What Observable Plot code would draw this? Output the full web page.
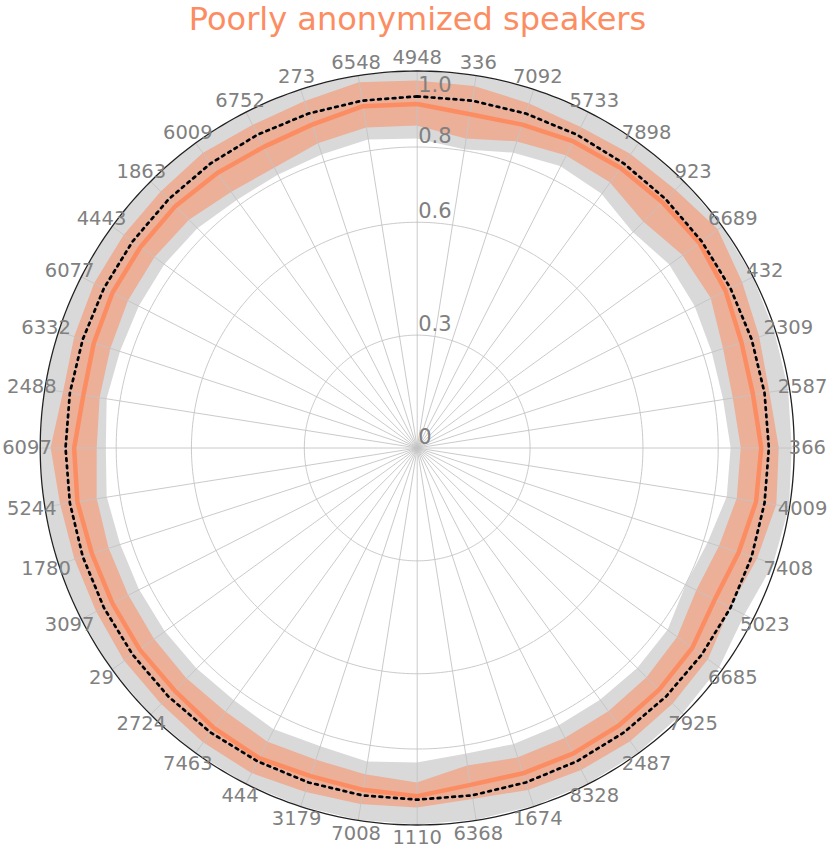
<!DOCTYPE html>
<html>
<head>
<meta charset="utf-8">
<script src="https://cdn.jsdelivr.net/npm/d3@7"></script>
<script src="https://cdn.jsdelivr.net/npm/@observablehq/plot@0.6"></script>
<style>
  body { margin: 0; background: #fff; font-family: "DejaVu Sans", sans-serif; }
  #title { height: 36px; line-height: normal; font-size: 32px; color: #fc8d62; text-align: center; padding-left: 5px; white-space: nowrap; margin-top: -2px; padding-top: 2px; }
  #chart svg { overflow: visible; display: block; }
</style>
</head>
<body>
<div id="title">Poorly anonymized speakers</div>
<div id="chart"></div>
<script>
// Speakers, clockwise from the top
const speakers = ["4948","336","7092","5733","7898","923","6689","432","2309","2587",
  "366","4009","7408","5023","6685","7925","2487","8328","1674","6368",
  "1110","7008","3179","444","7463","2724","29","3097","1780","5244",
  "6097","2488","6332","6077","4443","1863","6009","6752","273","6548"];

// Grey band (lower / upper)
const greyLo = [0.832,0.804,0.836,0.859,0.851,0.816,0.843,0.843,0.836,0.836,
  0.851,0.851,0.820,0.804,0.836,0.843,0.843,0.843,0.843,0.836,
  0.855,0.867,0.851,0.859,0.843,0.843,0.843,0.843,0.843,0.851,
  0.839,0.851,0.843,0.843,0.843,0.836,0.820,0.820,0.828,0.843];
const greyHi = [1.100,1.100,1.100,1.100,1.100,1.100,1.100,1.100,1.096,1.096,
  1.092,1.100,1.092,1.064,1.088,1.096,1.100,1.100,1.100,1.100,
  1.100,1.100,1.100,1.100,1.100,1.100,1.100,1.100,1.100,1.100,
  1.100,1.100,1.100,1.100,1.100,1.100,1.100,1.100,1.100,1.100];

// Orange band (lower / upper) and mean line
const orangeLo = [0.883,0.847,0.883,0.907,0.907,0.875,0.907,0.914,0.883,0.875,
  0.891,0.891,0.867,0.851,0.883,0.895,0.899,0.899,0.899,0.883,
  0.934,0.918,0.907,0.914,0.899,0.899,0.895,0.891,0.891,0.891,
  0.875,0.879,0.883,0.891,0.891,0.883,0.859,0.851,0.875,0.891];
const orangeHi = [1.061,1.057,1.041,1.033,1.045,1.053,1.080,1.053,1.033,1.021,
  1.041,1.049,1.025,1.001,1.033,1.041,1.045,1.041,1.033,1.017,
  1.033,1.037,1.041,1.053,1.049,1.041,1.041,1.033,1.033,1.037,
  1.057,1.025,1.033,1.041,1.041,1.041,1.049,1.041,1.049,1.072];
const meanVals = [0.970,0.946,0.954,0.970,0.978,0.982,0.989,0.978,0.958,0.954,
  0.970,0.966,0.946,0.930,0.954,0.962,0.966,0.966,0.962,0.958,
  0.986,0.978,0.974,0.986,0.978,0.966,0.966,0.962,0.962,0.970,
  0.966,0.946,0.954,0.962,0.962,0.962,0.954,0.946,0.954,0.978];

// Reference (dotted) line
const reference = [1,1,1,1,1,1,1,1,1,1,1,1,1,1,1,1,1,1,1,1,
  1,1,1,1,1,1,1,1,1,1,1,1,1,1,1,1,1,1,1,1];

// Radial ticks
const rTicks = [0, 0.3, 0.6, 0.8, 1.0];
const rTickLabels = ["0", "0.3", "0.6", "0.8", "1.0"];
const rMax = 1.1;

// radial scale (linear to 0.8, compressed above)
const rs = d3.scaleLinear().domain([0, 0.8, rMax]).range([0, 301 / 377, 1]);
const N = speakers.length;
const ang = i => (i * 2 * Math.PI) / N;
const px = (v, i) => rs(v) * Math.sin(ang(i));
const py = (v, i) => rs(v) * Math.cos(ang(i));

const rows = speakers.map((s, i) => ({
  i, s, gl: greyLo[i], gh: greyHi[i], ol: orangeLo[i], oh: orangeHi[i], m: meanVals[i], ref: reference[i]
}));
const closed = [...rows, rows[0]];

const circle = v => d3.range(0, 361, 1).map(a => ({a: (a * Math.PI) / 180, v}));
const ring = v => Plot.line(circle(v), {
  x: d => rs(d.v) * Math.sin(d.a), y: d => rs(d.v) * Math.cos(d.a),
  stroke: "#c4c4c4", strokeWidth: 0.9
});

const labelR = 1.035;
const chart = Plot.plot({
  width: 830,
  height: 813,
  marginTop: 34.5,
  marginBottom: 24.5,
  marginLeft: 39.7,
  marginRight: 36.3,
  x: {domain: [-1, 1], axis: null},
  y: {domain: [-1, 1], axis: null},
  style: {fontFamily: "DejaVu Sans", background: "transparent", overflow: "visible"},
  marks: [
    Plot.area(closed, {
      x1: d => px(d.gl, d.i), y1: d => py(d.gl, d.i),
      x2: d => px(d.gh, d.i), y2: d => py(d.gh, d.i),
      fill: "#d9d9d9"
    }),
    Plot.area(closed, {
      x1: d => px(d.ol, d.i), y1: d => py(d.ol, d.i),
      x2: d => px(d.oh, d.i), y2: d => py(d.oh, d.i),
      fill: "#fc8d62", fillOpacity: 0.55
    }),
    Plot.link(rows, {
      x1: d => 0, y1: d => 0,
      x2: d => px(rMax, d.i), y2: d => py(rMax, d.i),
      stroke: "#c4c4c4", strokeWidth: 0.9
    }),
    ...rTicks.filter(t => t > 0).map(ring),
    Plot.line(circle(rMax), {
      x: d => rs(d.v) * Math.sin(d.a), y: d => rs(d.v) * Math.cos(d.a),
      stroke: "#222", strokeWidth: 1.3
    }),
    Plot.line(rows, {
      x: d => px(d.m, d.i), y: d => py(d.m, d.i),
      curve: "linear-closed", stroke: "#fc8d62", strokeWidth: 4.5
    }),
    Plot.line(rows, {
      x: d => px(d.ref, d.i), y: d => py(d.ref, d.i),
      curve: "linear-closed", stroke: "black", strokeWidth: 2.7, strokeDasharray: "2.7,4.6"
    }),
    Plot.text(rows, {
      x: d => labelR * Math.sin(ang(d.i)), y: d => labelR * Math.cos(ang(d.i)),
      text: d => d.s, fill: "#808080", fontSize: 19.5,
      textAnchor: "middle", lineAnchor: "middle"
    }),
    Plot.text(rTicks, {
      x: d => 0, y: d => rs(d), text: (d, i) => rTickLabels[i],
      textAnchor: "start", lineAnchor: "bottom", dx: 1, dy: -4,
      fill: "#808080", fontSize: 21
    })
  ]
});
document.getElementById("chart").appendChild(chart);
</script>
</body>
</html>
